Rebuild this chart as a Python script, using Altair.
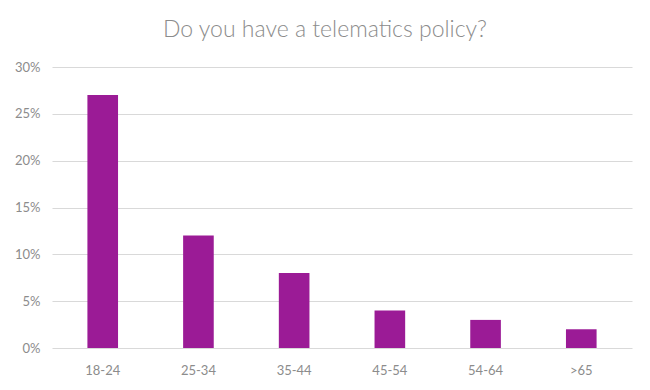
import altair as alt
import pandas as pd

categories = ["18-24", "25-34", "35-44", "45-54", "54-64", ">65"]
values = [0.27, 0.12, 0.08, 0.04, 0.03, 0.02]

df = pd.DataFrame({"age": categories, "share": values})

chart = alt.Chart(df).mark_bar(color="#9B1B96").encode(
    x=alt.X("age:N", sort=categories, title=None,
            scale=alt.Scale(paddingInner=0.68, paddingOuter=0.37),
            axis=alt.Axis(labelAngle=0, domain=False, ticks=False, labelPadding=16,
                          labelColor="#8c8c8c", labelFontSize=13, labelFont="Lato")),
    y=alt.Y("share:Q", title=None,
            scale=alt.Scale(domain=[0, 0.3], nice=False),
            axis=alt.Axis(format="%", values=[0, 0.05, 0.1, 0.15, 0.2, 0.25, 0.3],
                          domain=False, ticks=False, labelPadding=12,
                          labelColor="#8c8c8c", labelFontSize=13, labelFont="Lato",
                          gridColor="#d9d9d9", gridWidth=1))
).properties(
    width=580, height=281,
    autosize=alt.AutoSizeParams(type="none"),
    padding={"left": 44, "top": 59, "right": 10, "bottom": 34},
    title=alt.TitleParams("Do you have a telematics policy?", fontSize=23, font="Lato",
                          fontWeight=300, color="#8c8c8c", anchor="middle", dx=-17,
                          offset=19)
).configure_view(stroke=None)

chart.save("out.html", embed_options={"renderer": "svg", "actions": False})
